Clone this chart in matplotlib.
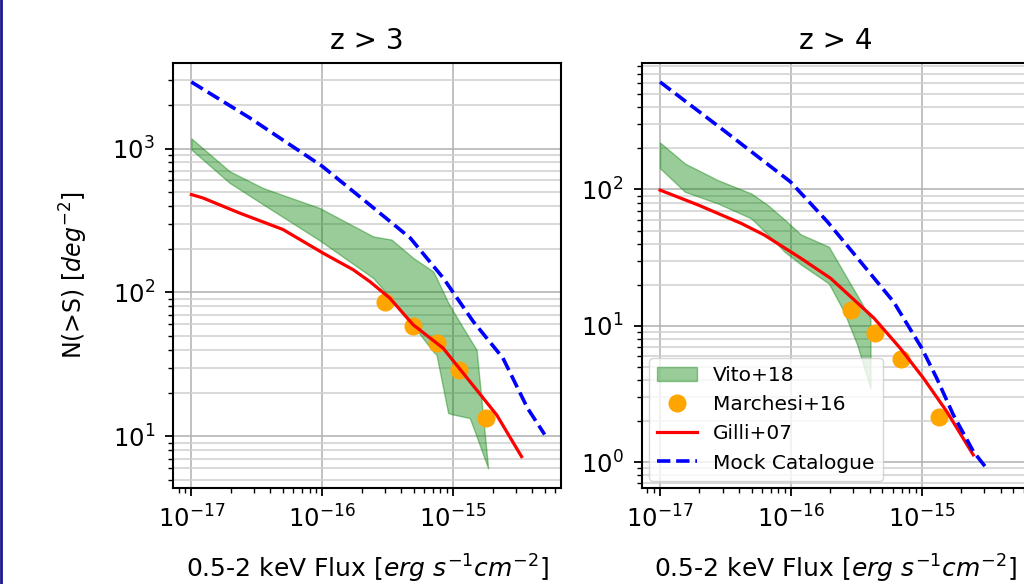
import matplotlib
matplotlib.use("Agg")
import matplotlib.pyplot as plt
import numpy as np
from matplotlib.lines import Line2D
from matplotlib.ticker import NullFormatter

# ---------------- data: z > 3 ----------------
mock_flux_z3 = [1.0e-17, 2.8e-17, 1.0e-16, 2.3e-16, 4.7e-16, 8.4e-16, 1.42e-15, 2.4e-15, 3.7e-15, 5.0e-15]
mock_n_z3 = [2900, 1630, 753, 407, 239, 126, 63, 35, 15.7, 10.3]

gilli_flux_z3 = [1.0e-17, 1.23e-17, 2.34e-17, 5.0e-17, 1.01e-16, 1.72e-16, 2.31e-16, 3.28e-16,
                 4.94e-16, 8.38e-16, 1.34e-15, 2.15e-15, 3.33e-15]
gilli_n_z3 = [479, 453, 356, 274, 188, 144, 119, 91.4, 59.7, 41.0, 24.1, 14.1, 7.24]

marchesi_flux_z3 = [3.0e-16, 4.9e-16, 7.46e-16, 1.11e-15, 1.78e-15]
marchesi_n_z3 = [85.7, 58.1, 44.7, 28.7, 13.5]

vito_flux_z3 = [1.0e-17, 1.96e-17, 3.52e-17, 9.55e-17, 2.45e-16, 3.38e-16, 4.94e-16, 7.03e-16,
                7.46e-16, 9.16e-16, 1.0e-15, 1.34e-15, 1.51e-15, 1.85e-15]
vito_hi_z3 = [1175, 695, 532, 386, 245, 233, 174, 140, 126, 85, 74, 47.6, 40, 6.0]
vito_lo_z3 = [984, 577, 410, 230, 126, 90, 59, 38.9, 36.9, 14.5, 14.2, 13.4, 10.0, 6.0]

# ---------------- data: z > 4 ----------------
mock_flux_z4 = [1.0e-17, 2.94e-17, 9.9e-17, 1.9e-16, 3.4e-16, 6.08e-16, 1.0e-15, 1.3e-15, 1.74e-15, 2.47e-15, 3.12e-15]
mock_n_z4 = [615, 280, 114, 58, 29.5, 15.0, 6.84, 4.12, 2.22, 1.20, 0.90]

gilli_flux_z4 = [1.0e-17, 1.96e-17, 4.17e-17, 6.27e-17, 1.19e-16, 2.01e-16, 4.3e-16, 6.84e-16,
                 1.03e-15, 1.55e-15, 2.47e-15]
gilli_n_z4 = [99, 76.9, 56.4, 46.3, 31.3, 22.3, 11.4, 6.84, 4.12, 2.35, 1.13]

marchesi_flux_z4 = [2.9e-16, 4.42e-16, 6.97e-16, 1.36e-15]
marchesi_n_z4 = [13.1, 8.8, 5.7, 2.16]

vito_flux_z4 = [1.0e-17, 1.55e-17, 2.77e-17, 4.97e-17, 6.65e-17, 8.91e-17, 1.19e-16, 1.95e-16,
                2.54e-16, 3.21e-16, 4.05e-16, 4.05e-16]
vito_hi_z4 = [221, 155, 117, 93.5, 76.9, 60.3, 46.8, 38.0, 24.5, 16.7, 11.35, 3.48]
vito_lo_z4 = [143, 96.2, 78.9, 61.4, 46.8, 35.0, 28.2, 20.4, 12.7, 7.24, 3.48, 3.48]

titles = ["z > 3", "z > 4"]
xlabel = "0.5-2 keV Flux [$erg\\ s^{-1}cm^{-2}$]"
ylabel = "N(>S) [$deg^{-2}$]"
labels = ["Vito+18", "Marchesi+16", "Gilli+07", "Mock Catalogue"]

plt.rcParams['font.family'] = ['DejaVu Sans']

fig = plt.figure(figsize=(10.24, 5.84), dpi=100)
ax1 = fig.add_axes([0.169, 0.165, 0.379, 0.7277])
ax2 = fig.add_axes([0.6267, 0.165, 0.379, 0.7277])

panels = [
    (ax1, vito_flux_z3, vito_lo_z3, vito_hi_z3, marchesi_flux_z3, marchesi_n_z3,
     gilli_flux_z3, gilli_n_z3, mock_flux_z3, mock_n_z3),
    (ax2, vito_flux_z4, vito_lo_z4, vito_hi_z4, marchesi_flux_z4, marchesi_n_z4,
     gilli_flux_z4, gilli_n_z4, mock_flux_z4, mock_n_z4),
]

for i, (ax, vf, vl, vh, mf, mn, gf, gn, kf, kn) in enumerate(panels):
    ax.fill_between(vf, vl, vh, color='green', alpha=0.4, label=labels[0])
    ax.plot(mf, mn, 'o', color='orange', ms=12, label=labels[1])
    ax.plot(gf, gn, '-', color='red', lw=2.3, label=labels[2])
    ax.plot(kf, kn, '--', color='blue', lw=2.6, label=labels[3])
    ax.set_xscale('log')
    ax.set_yscale('log')
    ax.set_xlim(10**-17.14, 10**-14.175)
    ax.xaxis.set_minor_formatter(NullFormatter())
    ax.yaxis.set_minor_formatter(NullFormatter())
    ax.grid(True, which='major', color='#b0b0b0', lw=1.1)
    ax.yaxis.grid(True, which='minor', color='#d0d0d0', lw=1.1)
    ax.set_axisbelow(True)
    ax.set_title(titles[i], fontsize=20, pad=10)
    ax.set_xlabel(xlabel, fontsize=18, labelpad=14)
    ax.tick_params(which='major', labelsize=17.5, length=6, width=1.3, pad=7)
    ax.tick_params(which='minor', length=3.5, width=1.0)
    for s in ax.spines.values():
        s.set_linewidth(1.5)

ax1.set_ylabel(ylabel, fontsize=17, labelpad=16)

leg = ax2.legend(loc='lower left', fontsize=14.5, handlelength=2.0, borderaxespad=0.35)

# navy border line at left edge of the image
fig.add_artist(Line2D([0.001, 0.001], [0, 1], transform=fig.transFigure, color='#1a1a8c', lw=2.0))

fig.savefig('out.png', dpi=100)
